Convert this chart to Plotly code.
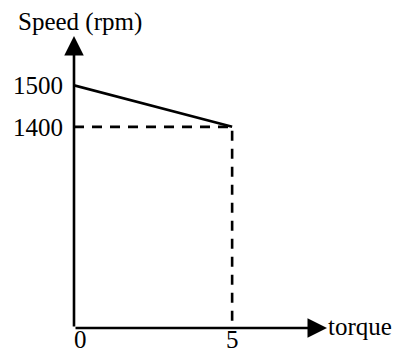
import plotly.graph_objects as go

# Speed–torque characteristic (schematic)
torque_pts = [0, 5]
speed_pts = [1500, 1400]

# Axis ticks
x_ticks = [0, 5]
y_ticks = [1400, 1500]

# Axis extents (where the arrows end)
x_max = 8
y_min, y_max = 915, 1619

FONT = dict(family="Liberation Serif", size=25, color="black")
LW = 2.6

fig = go.Figure()

# Sloped characteristic line
fig.add_trace(go.Scatter(
    x=torque_pts, y=speed_pts, mode="lines",
    line=dict(color="black", width=LW), showlegend=False, hoverinfo="skip",
))

# Dashed guides to the operating point
fig.add_trace(go.Scatter(
    x=[0, torque_pts[1], torque_pts[1]],
    y=[speed_pts[1], speed_pts[1], y_min],
    mode="lines",
    line=dict(color="black", width=LW, dash="10px,8px"),
    showlegend=False, hoverinfo="skip",
))

# Axes drawn as arrows
for hx, hy in [(0, y_max), (x_max, y_min)]:
    fig.add_annotation(x=hx, y=hy, ax=0, ay=y_min, xref="x", yref="y",
                       axref="x", ayref="y", text="", showarrow=True,
                       arrowhead=2, arrowsize=1.5, arrowwidth=LW, arrowcolor="black")

# Axis titles
fig.add_annotation(x=0, y=y_max, xref="x", yref="y", text="Speed (rpm)",
                   showarrow=False, font=FONT, xanchor="center", yanchor="bottom",
                   xshift=6, yshift=-2)
fig.add_annotation(x=x_max, y=y_min, xref="x", yref="y", text="torque",
                   showarrow=False, font=FONT, xanchor="left", yanchor="middle",
                   xshift=-1, yshift=2)

fig.update_xaxes(range=[0, x_max], tickvals=x_ticks,
                 ticktext=["\u00a0\u00a00", "5"],
                 showgrid=False, zeroline=False, showline=False, ticks="",
                 tickfont=FONT, ticklabelstandoff=-6, automargin=False)
fig.update_yaxes(range=[y_min, y_max], tickvals=y_ticks, ticktext=[str(v) for v in y_ticks],
                 showgrid=False, zeroline=False, showline=False, ticks="",
                 tickfont=FONT, ticklabelstandoff=10, automargin=False)

fig.update_layout(
    width=395, height=353,
    margin=dict(l=74, r=68, t=36, b=25),
    paper_bgcolor="white", plot_bgcolor="white",
    showlegend=False,
)

fig.write_html("out.html")
